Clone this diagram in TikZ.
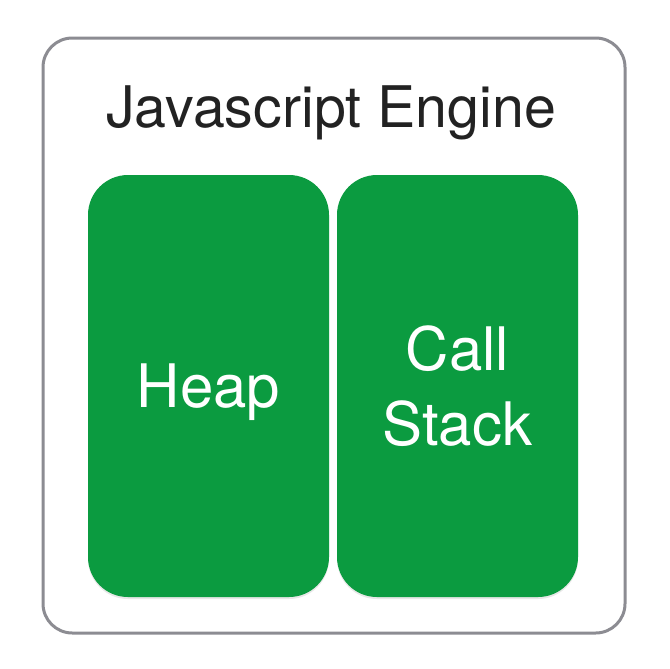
\documentclass[tikz,border=0pt]{standalone}
\usepackage{fontspec}
\setmainfont{TeX Gyre Heros}
\usetikzlibrary{shadows}
\definecolor{memgreen}{HTML}{0B9B40}
\definecolor{framegray}{HTML}{8C8C92}
\definecolor{titlegray}{HTML}{222222}
\tikzset{
  membox/.style={fill=memgreen, rounded corners=30pt, inner sep=0pt,
    minimum width=180.75pt, minimum height=316.5pt, text=white, align=center,
    font=\fontsize{45}{56.25}\selectfont,
    drop shadow={opacity=0.18, shadow xshift=0pt, shadow yshift=-1.5pt}},
}
\begin{document}
\begin{tikzpicture}[x=0.75pt,y=-0.75pt]

  \useasboundingbox (0,0) rectangle (670,668);
  \fill[white] (0,0) rectangle (670,668);

  \node [draw=framegray, line width=2.25pt, rounded corners=22pt,
    minimum width=436.5pt, minimum height=446.25pt] (engine) at (334,335.5) {};
  \node [anchor=base, text=titlegray, font=\fontsize{43}{52}\selectfont]
    (title) at (331,127) {Javascript Engine};

  \node [membox, text depth=0pt] (heap) at (208.5,386) {Heap};
  \node [membox] (stack) at (457.5,386) {Call\\Stack};

\end{tikzpicture}
\end{document}
